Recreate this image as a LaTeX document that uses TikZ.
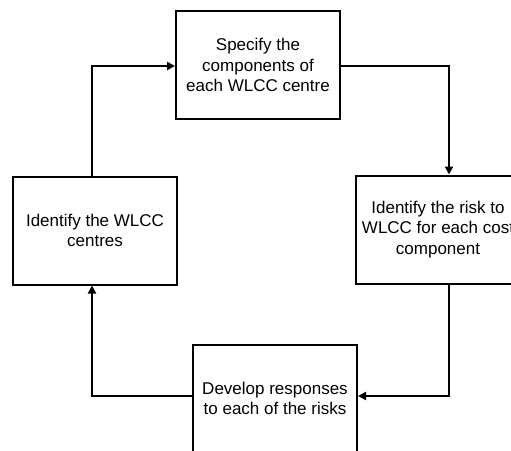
\documentclass[tikz,border=0pt]{standalone}
\usepackage{fontspec}
\setmainfont{Liberation Sans}
\usetikzlibrary{arrows.meta}
\begin{document}
\begin{tikzpicture}[x=1pt,y=-1pt,
  stepbox/.style={draw,line width=2pt,rectangle,minimum width=164pt,minimum height=108pt,inner sep=0pt,align=center,font=\fontsize{17}{20.5}\selectfont},
  conn/.style={line width=2pt,-{Triangle[length=8pt,width=8pt]}}]
\useasboundingbox (0,0) rectangle (511,450);
\clip (0,0) rectangle (511,450);
\node[stepbox] (top) at (258,65) {Specify the\\components of\\each WLCC centre};
\node[stepbox] (left) at (95,230.5) {Identify the WLCC\\centres};
\node[stepbox] (right) at (438,229.5) {Identify the risk to\\WLCC for each cost\\component};
\node[stepbox] (bottom) at (275,398.5) {Develop responses\\to each of the risks};
\coordinate (rt) at (449,0);
\coordinate (lx) at (92,0);
\draw[conn] (left.north -| lx) |- ([yshift=-1pt]top.west);
\draw[conn] ([yshift=-1pt]top.east) -| (right.north -| rt);
\draw[conn] (right.south -| rt) |- ([yshift=2.5pt]bottom.east);
\draw[conn] ([yshift=2.5pt]bottom.west) -| (left.south -| lx);
\end{tikzpicture}
\end{document}
